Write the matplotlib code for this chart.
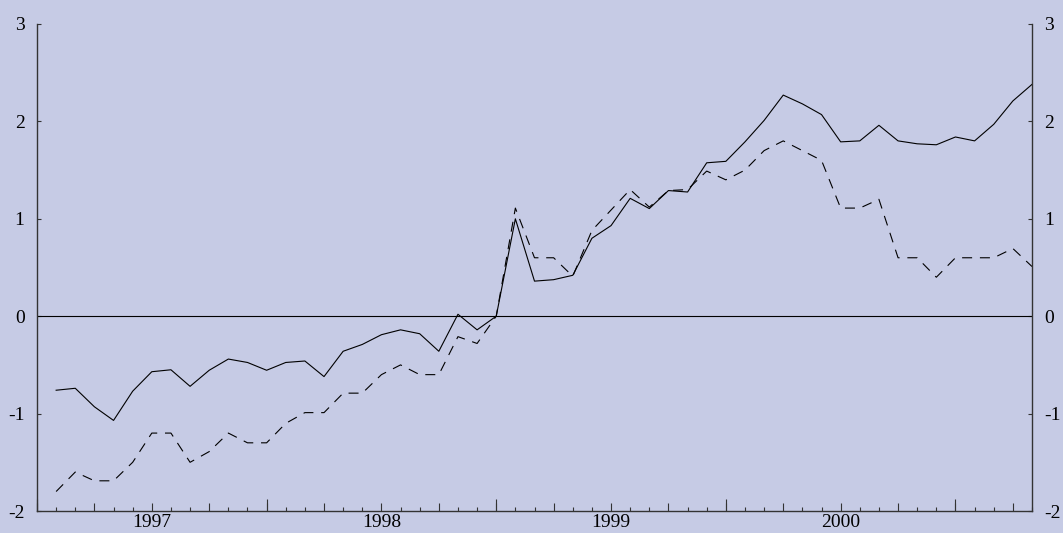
import numpy as np
import matplotlib
matplotlib.use('Agg')
from matplotlib import pyplot as plt

# monthly index, 1 = first observation (roughly Feb 1997 grid slot)
months = np.arange(1, 53)

solid = [-0.76, -0.74, -0.93, -1.07, -0.77, -0.57, -0.55, -0.72, -0.555, -0.44,
         -0.475, -0.555, -0.475, -0.46, -0.62, -0.36, -0.29, -0.19, -0.14, -0.18,
         -0.36, 0.02, -0.14, 0.0, 1.0, 0.36, 0.375, 0.42, 0.80, 0.93,
         1.21, 1.105, 1.29, 1.275, 1.575, 1.59, 1.79, 2.01, 2.27, 2.18,
         2.07, 1.79, 1.80, 1.96, 1.80, 1.77, 1.76, 1.84, 1.80, 1.97,
         2.21, 2.38]

dashed = [-1.80, -1.60, -1.69, -1.69, -1.50, -1.20, -1.20, -1.50, -1.39, -1.20,
          -1.30, -1.30, -1.10, -0.99, -0.99, -0.79, -0.79, -0.60, -0.50, -0.60,
          -0.60, -0.21, -0.28, 0.0, 1.11, 0.60, 0.60, 0.41, 0.88, 1.09,
          1.30, 1.12, 1.29, 1.30, 1.49, 1.40, 1.50, 1.70, 1.80, 1.70,
          1.60, 1.11, 1.11, 1.20, 0.60, 0.60, 0.40, 0.60, 0.60, 0.60,
          0.695, 0.51]

year_labels = ['1997', '1998', '1999', '2000']
year_label_pos = [6, 18, 30, 42]
year_ticks = [0, 12, 24, 36, 48]

bg = '#c6cbe5'
plt.rcParams['font.family'] = ['Liberation Serif', 'DejaVu Serif']
plt.rcParams['axes.unicode_minus'] = False

fig = plt.figure(figsize=(10.63, 5.33), dpi=100, facecolor=bg)
ax = fig.add_axes([37/1063, 22/533, 995/1063, 487/533], facecolor=bg)

ax.plot(months, solid, color='black', lw=0.8)
ax.plot(months, dashed, color='black', lw=0.8, linestyle=(0, (9, 7)))
ax.axhline(0, color='black', lw=0.8)

ax.set_xlim(0, 52)
ax.set_ylim(-2, 3)

for s in ['top']:
    ax.spines[s].set_visible(False)
for s in ['left', 'right', 'bottom']:
    ax.spines[s].set_color('#333333')
    ax.spines[s].set_linewidth(1.0)

# quarter ticks (medium) carry the year labels, months as minor
quarters = np.arange(0, 52, 3)
ax.set_xticks(quarters)
ax.set_xticklabels([year_labels[year_label_pos.index(q)] if q in year_label_pos else ''
                    for q in quarters])
ax.set_xticks(np.arange(0, 53), minor=True)
ax.tick_params(axis='x', which='major', direction='in', length=6, width=0.8,
               labelsize=14, pad=2, color='#333333')
ax.tick_params(axis='x', which='minor', direction='in', length=3, width=0.8,
               color='#333333')

# long year ticks
sec = ax.secondary_xaxis('bottom')
sec.set_xticks(year_ticks)
sec.set_xticklabels([''] * len(year_ticks))
sec.tick_params(direction='in', length=9, width=0.8, color='#333333')
sec.spines['bottom'].set_visible(False)

ax.set_yticks([-2, -1, 0, 1, 2, 3])
ax.tick_params(axis='y', direction='in', length=3, width=0.8, labelsize=14,
               left=True, right=True, labelleft=True, labelright=True,
               pad=9, color='#333333')

fig.savefig('out.png', dpi=100, facecolor=bg)
